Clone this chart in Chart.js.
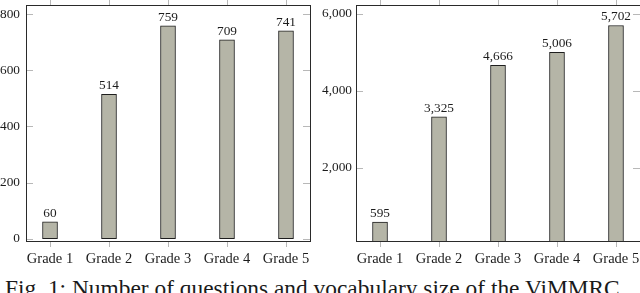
<!DOCTYPE html>
<html>
<head>
<meta charset="utf-8">
<script src="https://cdn.jsdelivr.net/npm/chart.js@4.4.1/dist/chart.umd.min.js"></script>
<style>
  html, body { margin: 0; padding: 0; background: #fff; overflow: hidden; width: 640px; height: 293px; }
  .panel { position: absolute; top: 0; height: 270px; }
  #leftWrap { left: 0; width: 320px; }
  #rightWrap { left: 320px; width: 330px; }
  #caption { position: absolute; left: 5px; top: 277px; font-family: "Liberation Serif", serif; font-size: 23.4px; line-height: 1; color: #1a1a1a; white-space: nowrap; }
</style>
</head>
<body>
<div id="leftWrap" class="panel"><canvas id="left"></canvas></div>
<div id="rightWrap" class="panel"><canvas id="right"></canvas></div>
<div id="caption">Fig. 1: Number of questions and vocabulary size of the ViMMRC</div>
<script>
// ---- data ----
const categories = ["Grade 1", "Grade 2", "Grade 3", "Grade 4", "Grade 5"];
const questionCounts = [60, 514, 759, 709, 741];
const vocabularySizes = [595, 3325, 4666, 5006, 5702];
const questionTicks = [0, 200, 400, 600, 800];
const vocabularyTicks = [2000, 4000, 6000];

const FONT = '"Liberation Serif", "Times New Roman", serif';
const TEXT = '#1c1c1c';
const TICKC = '#b8b8b8';
const BAR_FILL = '#b5b5a7';

function fmt(v) { return Number(v).toLocaleString('en-US'); }

const framePlugin = {
  id: 'frame',
  afterDatasetsDraw(chart) {
    const {ctx, chartArea: a} = chart;
    const xs = chart.scales.x, ys = chart.scales.y;
    ctx.save();
    ctx.strokeStyle = TICKC;
    ctx.lineWidth = 1;
    ctx.beginPath();
    ys.ticks.forEach(t => {
      const y = Math.round(ys.getPixelForValue(t.value)) + 0.5;
      ctx.moveTo(a.left, y); ctx.lineTo(a.left + 7, y);
      ctx.moveTo(a.right - 7, y); ctx.lineTo(a.right, y);
    });
    xs.ticks.forEach(t => {
      const x = Math.round(xs.getPixelForValue(t.value)) + 0.5;
      ctx.moveTo(x, a.top - 5); ctx.lineTo(x, a.top);
      ctx.moveTo(x, a.bottom); ctx.lineTo(x, a.bottom + 6);
    });
    ctx.stroke();
    ctx.strokeStyle = '#2a2a2a';
    ctx.lineWidth = 1;
    ctx.strokeRect(Math.round(a.left) + 0.5, Math.round(a.top) + 0.5,
                   Math.round(a.right - a.left), Math.round(a.bottom - a.top));
    // value labels
    ctx.fillStyle = TEXT;
    ctx.font = '13.3px ' + FONT;
    ctx.textAlign = 'center';
    ctx.textBaseline = 'alphabetic';
    const meta = chart.getDatasetMeta(0);
    meta.data.forEach((el, i) => {
      const v = chart.data.datasets[0].data[i].y;
      ctx.fillText(fmt(v), el.x, el.y - 5);
    });
    ctx.restore();
  }
};

function noPad(s) { s.paddingTop = 0; s.paddingBottom = 0; s.paddingLeft = 0; s.paddingRight = 0; }

function makeChart(id, values, yTicks, yMin, yMax, step, yWidth, tickPad) {
  return new Chart(document.getElementById(id), {
    type: 'bar',
    data: {
      datasets: [{
        data: values.map((v, i) => ({x: i, y: v})),
        backgroundColor: BAR_FILL,
        borderColor: '#1e1e1e',
        borderWidth: 1,
        barThickness: 15,
        borderSkipped: false
      }]
    },
    options: {
      responsive: true,
      maintainAspectRatio: false,
      animation: false,
      events: [],
      layout: { padding: { left: 0, right: 10, top: 5, bottom: 0 } },
      plugins: { legend: { display: false }, tooltip: { enabled: false } },
      scales: {
        x: {
          type: 'linear',
          offset: false,
          min: -0.407, max: 4.407,
          grid: { display: false, drawTicks: false, offset: false },
          border: { display: false },
          afterFit(s) { s.height = 29; noPad(s); },
          ticks: {
            stepSize: 1,
            includeBounds: false,
            autoSkip: false,
            maxRotation: 0,
            padding: 9,
            color: TEXT,
            font: { family: FONT, size: 14.5 },
            callback: (v) => categories[v] ?? ''
          }
        },
        y: {
          type: 'linear',
          min: yMin, max: yMax,
          grid: { display: false, drawTicks: false },
          border: { display: false },
          afterFit(s) { s.width = yWidth; noPad(s); },
          afterBuildTicks(s) { s.ticks = yTicks.map(v => ({value: v})); },
          ticks: {
            stepSize: step,
            includeBounds: false,
            padding: tickPad,
            color: TEXT,
            font: { family: FONT, size: 13.3 },
            callback: (v) => fmt(v)
          }
        }
      }
    },
    plugins: [framePlugin]
  });
}

makeChart('left', questionCounts, questionTicks, -8.6, 833, 200, 26, 6);
makeChart('right', vocabularySizes, vocabularyTicks, 100, 6234, 2000, 36, 4);
</script>
</body>
</html>
